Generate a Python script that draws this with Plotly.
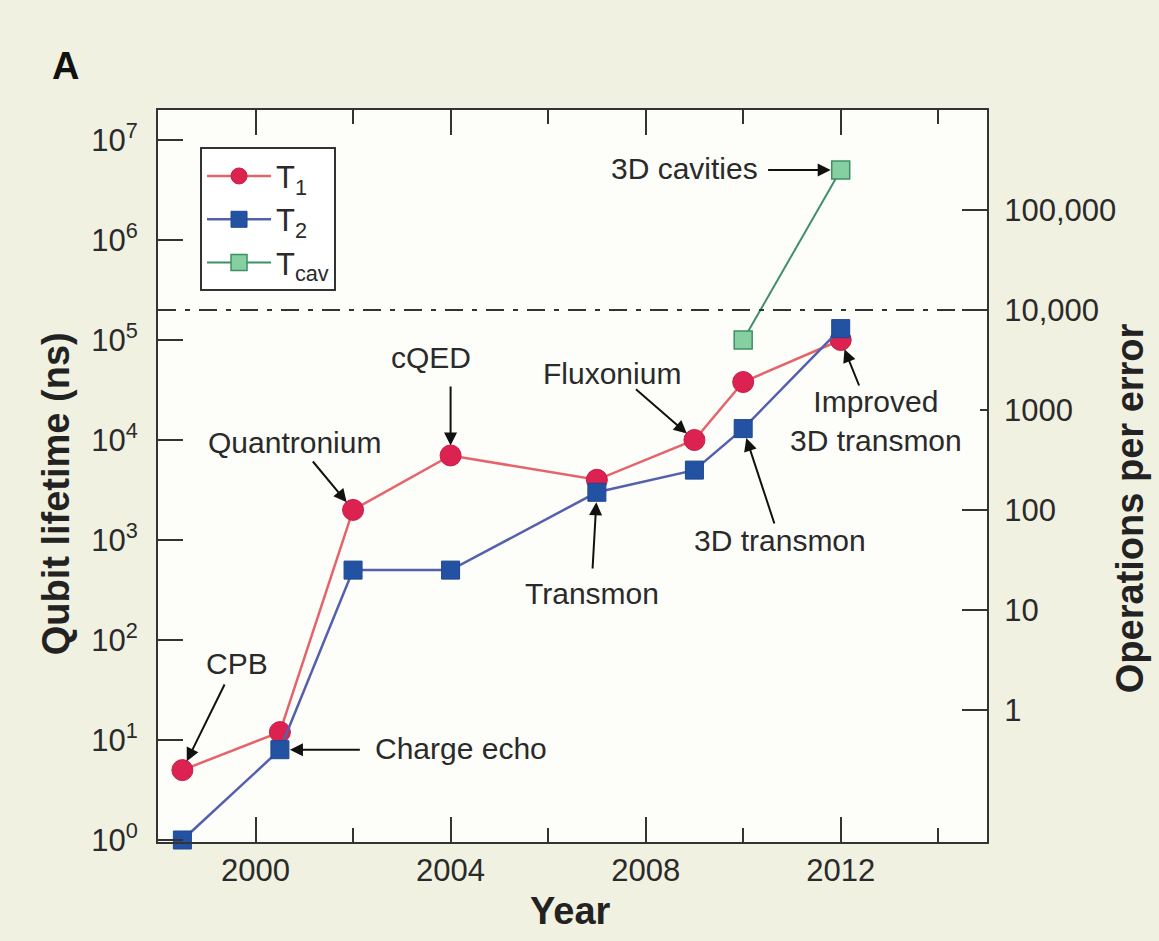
import math
import plotly.graph_objects as go

# Coherence times of superconducting qubits by year
years_t1 = [1998.5, 2000.5, 2002, 2004, 2007, 2009, 2010, 2012]
t1_ns = [5, 12, 2000, 7000, 4000, 10000, 38000, 100000]

years_t2 = [1998.5, 2000.5, 2002, 2004, 2007, 2009, 2010, 2012]
t2_ns = [1, 8, 500, 500, 3000, 5000, 13000, 130000]

years_cav = [2010, 2012]
tcav_ns = [100000, 5000000]

# Threshold for 10,000 operations per error, and ns per operation
threshold_ns = 2e5
ns_per_op = 20

x_ticks = [2000, 2004, 2008, 2012]
y_ticks = [1, 10, 100, 1000, 10000, 100000, 1000000, 10000000]
y_ticktext = ["10<sup>%d</sup>" % i for i in range(8)]
ops_long = [1, 10, 100, 10000, 100000]
ops_long_text = ["1", "10", "100", "10,000", "100,000"]
ops_short = [1000]
ops_short_text = ["1000"]

FONT = "Liberation Sans, Arial, Helvetica, sans-serif"
INK = "#2a2a2a"
PAPER = "#f1f1e1"
PLOT = "#fdfdf9"

y_lo, y_hi = -0.02, 7.3
shift = math.log10(ns_per_op)

fig = go.Figure()

fig.add_trace(go.Scatter(
    x=years_t1, y=t1_ns, mode="lines+markers", name="T<sub>1</sub>",
    line=dict(color="#e5646c", width=2.5),
    marker=dict(symbol="circle", size=21, color="#dc2250",
                line=dict(color="#c81c46", width=1)),
    cliponaxis=False, legendgroup="a",
))
fig.add_trace(go.Scatter(
    x=years_t2, y=t2_ns, mode="lines+markers", name="T<sub>2</sub>",
    line=dict(color="#5560ac", width=2.5),
    marker=dict(symbol="square", size=18, color="#2452a2",
                line=dict(color="#1e4790", width=1)),
    cliponaxis=False, legendgroup="b",
))
fig.add_trace(go.Scatter(
    x=years_cav, y=tcav_ns, mode="lines+markers", name="T<sub>cav</sub>",
    line=dict(color="#3f8f6a", width=2),
    marker=dict(symbol="square", size=18, color="#86cfa0",
                line=dict(color="#3f8f66", width=1.5)),
    cliponaxis=False, legendgroup="c",
))
# Dash-dot threshold line
fig.add_trace(go.Scatter(
    x=[1998, 2015], y=[threshold_ns, threshold_ns], mode="lines",
    line=dict(color="#333333", width=2, dash="18px,9px,5px,9px"),
    showlegend=False, hoverinfo="skip",
))

lg = math.log10
ann = []


def label(text, x, ylog, xanchor="center", align="center"):
    ann.append(dict(text=text, x=x, y=ylog, xref="x", yref="y",
                    showarrow=False, xanchor=xanchor, yanchor="middle",
                    align=align,
                    font=dict(family=FONT, size=30, color=INK)))


def arrow(xt, ylt, xh, ylh, standoff=10):
    ann.append(dict(text="", x=xh, y=ylh, ax=xt, ay=ylt,
                    xref="x", yref="y", axref="x", ayref="y",
                    showarrow=True, arrowhead=2, arrowsize=1.3,
                    arrowwidth=2, arrowcolor="#111111", standoff=standoff))


label("CPB", 1999.61, 1.77)
arrow(1999.38, 1.57, years_t1[0], lg(t1_ns[0]))
label("Charge echo", 2002.4, 0.92, xanchor="left")
arrow(2002.17, lg(t2_ns[1]), years_t2[1], lg(t2_ns[1]))
label("Quantronium", 2000.8, 3.98)
arrow(2001.15, 3.8, years_t1[2], lg(t1_ns[2]))
label("cQED", 2003.59, 4.83)
arrow(2004.0, 4.55, years_t1[3], lg(t1_ns[3]))
label("Fluxonium", 2007.32, 4.67)
arrow(2007.77, 4.52, years_t1[5], lg(t1_ns[5]))
label("Transmon", 2006.91, 2.47)
arrow(2006.91, 2.70, years_t2[4], lg(t2_ns[4]))
label("3D transmon", 2010.75, 3.0)
arrow(2010.65, 3.15, years_t2[6], lg(t2_ns[6]))
label("Improved<br>3D transmon", 2012.72, 4.19)
arrow(2012.39, 4.53, years_t1[7], lg(t1_ns[7]))
label("3D cavities", 2008.8, 6.72)
arrow(2010.48, lg(tcav_ns[1]), years_cav[1], lg(tcav_ns[1]))

# Axis titles and panel letter
title_font = dict(family=FONT, size=38, color="#222222")


def paper_text(text, x, y, font, angle=0):
    ann.append(dict(text=text, x=x, y=y, xref="paper", yref="paper",
                    xanchor="center", yanchor="middle", textangle=angle,
                    showarrow=False, font=font))


paper_text("<b>Qubit lifetime (ns)</b>", -0.123, 0.475, title_font, -90)
paper_text("<b>Operations per error</b>", 1.1725, 0.456, title_font, -90)
paper_text("<b>Year</b>", 0.498, -0.094, title_font)
paper_text("<b>A</b>", -0.112, 1.06,
           dict(family=FONT, size=38, color="#111111"))

tick_font = dict(family=FONT, size=31, color=INK)

fig.update_layout(
    width=1159, height=941,
    margin=dict(l=158, r=172, t=110, b=99),
    paper_bgcolor=PAPER, plot_bgcolor=PLOT,
    font=dict(family=FONT, color=INK),
    annotations=ann,
    showlegend=True,
    legend=dict(x=0.0507, y=0.949, xanchor="left", yanchor="top",
                bgcolor="#ffffff", bordercolor="#333333", borderwidth=2,
                font=dict(family=FONT, size=31, color=INK),
                tracegroupgap=0, traceorder="grouped", itemwidth=64),
    xaxis=dict(range=[1998, 2015], tickmode="array", tickvals=x_ticks,
               ticks="inside", ticklen=25, tickwidth=2, tickcolor="#333333",
               minor=dict(dtick=2, tick0=2000, ticks="inside", ticklen=14,
                          tickwidth=2, tickcolor="#333333"),
               showline=True, linecolor="#333333", linewidth=2,
               mirror="ticks", showgrid=False, zeroline=False,
               tickfont=tick_font, ticklabelstandoff=0),
    yaxis=dict(type="log", range=[y_lo, y_hi], tickmode="array",
               tickvals=y_ticks, ticktext=y_ticktext,
               ticks="inside", ticklen=25, tickwidth=2, tickcolor="#333333",
               showline=True, linecolor="#333333", linewidth=2,
               mirror=True, showgrid=False, zeroline=False,
               tickfont=tick_font, ticklabelstandoff=12),
    yaxis2=dict(type="log", range=[y_lo - shift, y_hi - shift],
                overlaying="y", side="right", tickmode="array",
                tickvals=ops_long, ticktext=ops_long_text,
                ticks="inside", ticklen=25, tickwidth=2, tickcolor="#333333",
                showline=True, linecolor="#333333", linewidth=2,
                showgrid=False, zeroline=False, tickfont=tick_font,
                ticklabelstandoff=9),
    yaxis3=dict(type="log", range=[y_lo - shift, y_hi - shift],
                overlaying="y", side="right", tickmode="array",
                tickvals=ops_short, ticktext=ops_short_text,
                ticks="inside", ticklen=7, tickwidth=2, tickcolor="#333333",
                showline=False, showgrid=False, zeroline=False,
                tickfont=tick_font, ticklabelstandoff=16),
)

# Invisible traces bind the right-hand axes so they are drawn
fig.add_trace(go.Scatter(x=[None], y=[None], yaxis="y2", showlegend=False,
                         hoverinfo="skip"))
fig.add_trace(go.Scatter(x=[None], y=[None], yaxis="y3", showlegend=False,
                         hoverinfo="skip"))

fig.write_html("out.html")
